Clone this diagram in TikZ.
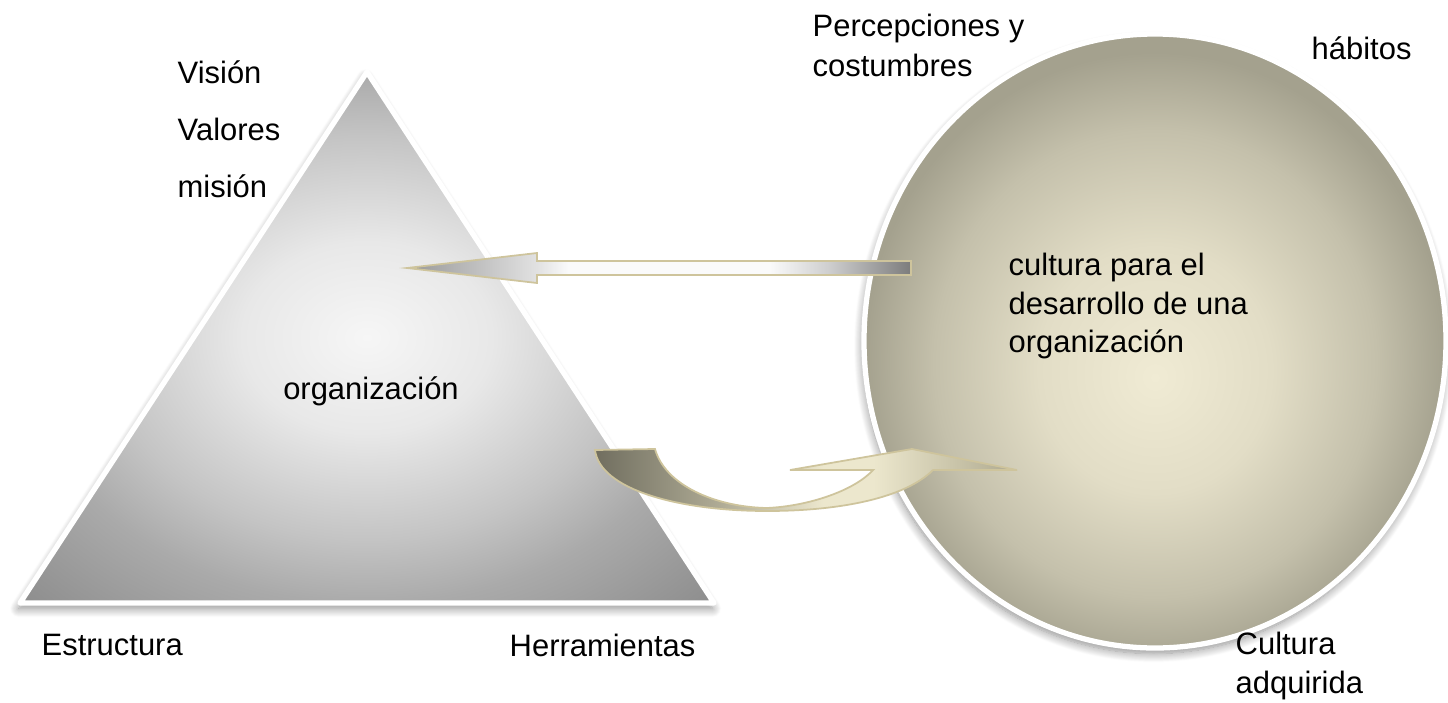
\documentclass[tikz,border=0pt]{standalone}
\usepackage{fontspec}
\setmainfont{Liberation Sans}
\usetikzlibrary{shadows.blur}

\definecolor{pyrlight}{RGB}{246,246,246}
\definecolor{pyrmid}{RGB}{232,232,232}
\definecolor{pyrgray}{RGB}{196,196,196}
\definecolor{pyredge}{RGB}{170,170,170}
\definecolor{pyrdark}{RGB}{142,142,142}
\definecolor{sphlight}{RGB}{240,235,212}
\definecolor{sphmid}{RGB}{226,221,198}
\definecolor{sphgray}{RGB}{196,192,171}
\definecolor{sphedge}{RGB}{164,161,142}
\definecolor{arrline}{RGB}{206,196,156}
\definecolor{arrtip}{RGB}{152,152,152}
\definecolor{arrhead}{RGB}{226,226,226}
\definecolor{arrwhite}{RGB}{250,250,250}
\definecolor{arrmid}{RGB}{205,205,205}
\definecolor{arrend}{RGB}{124,124,124}
\definecolor{curvedark}{RGB}{112,110,95}
\definecolor{curvemid}{RGB}{176,172,150}
\definecolor{curvecream}{RGB}{236,231,205}
\definecolor{curvetan}{RGB}{200,195,168}
\definecolor{curveend}{RGB}{174,169,144}

\pgfdeclareradialshading{pyramidshade}{\pgfpoint{0bp}{0bp}}{color(0bp)=(pyrlight); color(9bp)=(pyrmid); color(19bp)=(pyrgray); color(25bp)=(pyredge); color(35bp)=(pyrdark); color(50bp)=(pyrdark)}
\pgfdeclareradialshading{sphereshade}{\pgfpoint{0bp}{-3bp}}{color(0bp)=(sphlight); color(10bp)=(sphmid); color(19bp)=(sphgray); color(25bp)=(sphedge); color(50bp)=(sphedge)}
\pgfdeclarehorizontalshading{straightshade}{100bp}{color(0bp)=(arrtip); color(25bp)=(arrtip); color(38bp)=(arrhead); color(41bp)=(arrwhite); color(61bp)=(arrwhite); color(67bp)=(arrmid); color(75bp)=(arrend); color(100bp)=(arrend)}
\pgfdeclarehorizontalshading{curveshade}{100bp}{color(0bp)=(curvedark); color(25bp)=(curvedark); color(40bp)=(curvemid); color(52bp)=(curvecream); color(58bp)=(curvecream); color(68bp)=(curvetan); color(75bp)=(curveend); color(100bp)=(curveend)}

\newcommand{\diagfont}{\fontsize{8.8}{10.9}\selectfont}

\tikzset{
    rim/.style={draw=white, line width=1.5pt, line join=round,
        blur shadow={shadow xshift=-0.4pt, shadow yshift=-1.6pt, shadow blur radius=2.5pt, shadow blur steps=12, shadow opacity=45}},
    blockarrow/.style={draw=arrline, line width=0.5pt, line join=miter},
    txt/.style={anchor=west, inner sep=0pt, align=left, font=\diagfont, color=black}
}

\begin{document}
\begin{tikzpicture}
    \begin{scope}[x=0.01cm, y=-0.01cm]
        \useasboundingbox (0,0) rectangle (1448,703);

        % Pyramid
        \shade[rim, shading=pyramidshade] (367,72) -- (714,603) -- (20,603) -- cycle;

        % Sphere
        \shade[rim, shading=sphereshade] (1155,341) ellipse [x radius=291, y radius=307];

        % Straight arrow (sphere to pyramid)
        \shade[blockarrow, shading=straightshade]
            (407,268) -- (537,253) -- (537,261) -- (911,261)
            -- (911,275) -- (537,275) -- (537,283) -- cycle;

        % Curved arrow (pyramid to sphere)
        \shade[blockarrow, shading=curveshade]
            (595,450) -- (655,449)
            .. controls (665,485) and (715,507) .. (767,508)
            .. controls (810,506) and (855,490) .. (873,470)
            -- (790,470) -- (912,449) -- (1017,470) -- (933,470)
            .. controls (905,498) and (840,511) .. (767,511)
            .. controls (680,511) and (600,490) .. (595,450) -- cycle;

        % Labels of the pyramid
        \node[txt] (vision) at (177,72) {Visión};
        \node[txt] (valores) at (177,129) {Valores};
        \node[txt] (mision) at (177,186) {misión};
        \node[txt, anchor=center] (org) at (371,391) {organización};
        \node[txt] (estructura) at (41,645) {Estructura};
        \node[txt] (herramientas) at (509,645) {Herramientas};

        % Labels of the sphere
        \node[txt, anchor=north west, font=\fontsize{8.8}{11.6}\selectfont] (percepciones) at (812,13) {Percepciones y\\costumbres};
        \node[txt, anchor=base west] (habitos) at (1311,60) {hábitos};
        \node[txt] (cultura) at (1008,306) {cultura para el\\desarrollo de una\\organización};
        \node[txt] (adquirida) at (1235,666) {Cultura\\adquirida};
    \end{scope}
\end{tikzpicture}
\end{document}
